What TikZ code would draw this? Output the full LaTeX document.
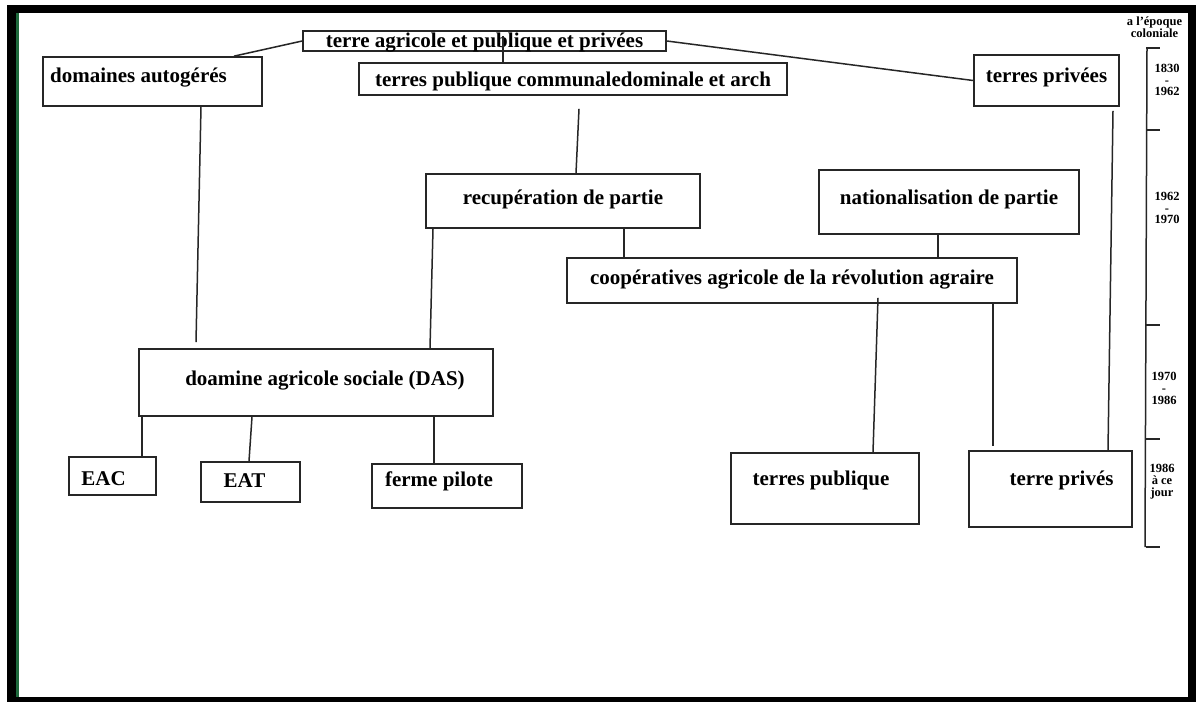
\documentclass[tikz,border=0pt]{standalone}
\usepackage{fontspec}
\setmainfont{Liberation Serif}
\usetikzlibrary{positioning}
\newcommand{\boxfont}{\fontsize{21}{24}\selectfont\bfseries}
\newcommand{\yearfont}{\fontsize{12.5}{11.8}\selectfont\bfseries}
\definecolor{framegreen}{RGB}{30,105,60}
\tikzstyle{box} = [draw=black!85, line width=1.7pt, rectangle, inner sep=0pt, font=\boxfont]
\tikzstyle{link} = [black!85, line width=1.5pt]
\tikzstyle{year} = [align=center, inner sep=0pt, font=\yearfont]

\begin{document}
\begin{tikzpicture}[x=1pt, y=-1pt]
	\useasboundingbox (0,0) rectangle (1197,702);

	% frame
	\fill [black] (7,5) rectangle (1196,702);
	\fill [white] (16,13) rectangle (1188,697);
	\draw [framegreen, line width=2.5pt] (17.5,13) -- (17.5,697);

	% top
	\node (TerreAgri) [box, minimum width=363pt, text height=16pt, text depth=4pt] at (484.5, 41) {terre agricole et publique et privées};
	\node (Domaines) [box, minimum width=219pt, text height=25pt, text depth=24pt] at (152.5, 81.5) {domaines autogérés\hspace*{28pt}};
	\node (PubCom) [box, minimum width=428pt, text height=23pt, text depth=9pt] at (573, 79) {terres publique communaledominale et arch};
	\node (Privees) [box, minimum width=145pt, text height=27pt, text depth=24pt] at (1046.5, 80.5) {terres privées};
	\draw [link] (TerreAgri.west) -- ([xshift=81.5pt]Domaines.north);
	\draw [link] ([xshift=18.5pt, yshift=5pt]TerreAgri.center) -- ([xshift=-70pt]PubCom.north);
	\draw [link] (TerreAgri.east) -- (Privees.west);

	% 1962 - 1970
	\node (Recup) [box, minimum width=274pt, text height=30pt, text depth=24pt] at (563, 201) {recupération de partie};
	\node (Nation) [box, minimum width=260pt, text height=34pt, text depth=30pt] at (949, 202) {nationalisation de partie};
	\node (Coop) [box, minimum width=450pt, text height=26pt, text depth=19pt] at (792, 280.5) {coopératives agricole de la révolution agraire};
	\draw [link] ([xshift=6pt, yshift=-13pt]PubCom.south) -- ([xshift=13pt]Recup.north);
	\draw [link] ([xshift=61pt]Recup.south) -- ([xshift=-168pt]Coop.north);
	\draw [link] ([xshift=-11pt]Nation.south) -- ([xshift=146pt]Coop.north);

	% 1970 - 1986
	\node (Das) [box, minimum width=354pt, text height=36pt, text depth=31pt] at (316, 382.5) {\hspace*{18pt}doamine agricole sociale (DAS)};
	\draw [link] ([xshift=48.5pt]Domaines.south) -- ([xshift=-120pt, yshift=6pt]Das.north);
	\draw [link] ([xshift=-130pt]Recup.south) -- ([xshift=114pt]Das.north);

	% 1986 a ce jour
	\node (Eac) [box, minimum width=87pt, text height=28pt, text depth=10pt] at (112.5, 476) {EAC\hspace*{18pt}};
	\node (Eat) [box, minimum width=99pt, text height=25pt, text depth=15pt] at (250.5, 482) {EAT\hspace*{12pt}};
	\node (Ferme) [box, minimum width=150pt, text height=22pt, text depth=22pt] at (447, 486) {ferme pilote\hspace*{16pt}};
	\draw [link] ([xshift=-174pt]Das.south) -- ([xshift=29.5pt]Eac.north);
	\draw [link] ([xshift=-64pt]Das.south) -- ([xshift=-1.5pt]Eat.north);
	\draw [link] ([xshift=118pt]Das.south) -- ([xshift=-13pt]Ferme.north);

	\node (TerresPub) [box, minimum width=188pt, text height=32pt, text depth=39pt] at (825, 488.5) {terres publique\hspace*{8pt}};
	\node (TerrePriv) [box, minimum width=163pt, text height=34pt, text depth=42pt] at (1050.5, 489) {\hspace*{22pt}terre privés};
	\draw [link] ([xshift=86pt, yshift=6pt]Coop.south) -- ([xshift=48pt]TerresPub.north);
	\draw [link] ([xshift=201pt]Coop.south) -- ([xshift=-57.5pt, yshift=4pt]TerrePriv.north);
	\draw [link] ([xshift=66.5pt, yshift=-4pt]Privees.south) -- ([xshift=57.5pt]TerrePriv.north);

	% time scale
	\draw [link] (1147,48) -- (1145,547);
	\foreach \y in {48,130,325,439,547}
		\draw [link] (1146,\y) -- (1160,\y);
	\node (Epoque) [year, font=\fontsize{12.5}{10.5}\selectfont\bfseries] at (1154.5, 27) {a l'époque\\coloniale};
	\node (Per1) [year] at (1167, 80) {1830\\-\\1962};
	\node (Per2) [year] at (1167, 208) {1962\\-\\1970};
	\node (Per3) [year] at (1164, 388.5) {1970\\-\\1986};
	\node (Per4) [year] at (1162, 481.5) {1986\\à ce\\jour};
\end{tikzpicture}
\end{document}
